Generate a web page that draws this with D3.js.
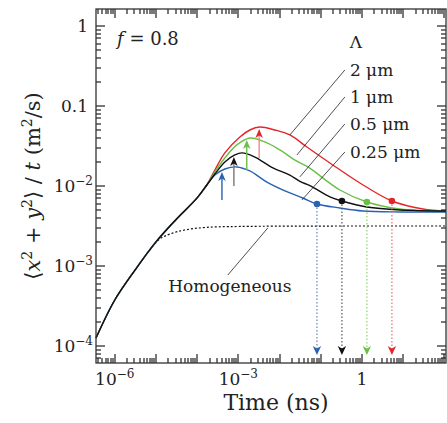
<!DOCTYPE html>
<html>
<head>
<meta charset="utf-8">
<script src="https://cdn.jsdelivr.net/npm/d3@7"></script>
</head>
<body style="margin:0;background:#fff">
<svg id="chart"></svg>
<script>
// time in ns, <x^2+y^2>/t in m^2/s
// part shared by every curve before they split
const commonT = [3.5e-7, 1e-6, 3.1e-6, 1e-5, 3e-5, 1e-4, 1.72e-4];
const commonY = [1.26e-4, 3.76e-4, 8.9e-4, 2.0e-3, 3.76e-3, 7.1e-3, 0.0103];

const homT = [7.1e-6, 1.24e-5, 2.19e-5, 5.0e-5, 1.55e-4, 1.1e-3, 110];
const homY = [1.58e-3, 2.18e-3, 2.51e-3, 2.82e-3, 3.03e-3, 3.12e-3, 3.16e-3];

const redT = [2.69e-4, 4.7e-4, 1.09e-3, 1.9e-3, 3.33e-3, 7.71e-3, 1.78e-2, 4.61e-2, 0.167, 0.894, 5.36, 30.3, 110];
const redY = [0.0158, 0.0259, 0.0410, 0.0501, 0.0546, 0.0501, 0.0434, 0.0307, 0.0194, 0.0109, 0.00649, 0.00516, 0.00487];

const greenT = [2.69e-4, 4.7e-4, 9.2e-4, 1.9e-3, 4.4e-3, 1.02e-2, 2.36e-2, 4.88e-2, 0.292, 1.32, 8.37, 110];
const greenY = [0.0150, 0.0224, 0.0326, 0.0398, 0.0355, 0.0282, 0.0211, 0.0173, 0.00891, 0.00631, 0.00516, 0.00487];

const blackT = [2.69e-4, 4.7e-4, 8.22e-4, 1.22e-3, 2.52e-3, 6.89e-3, 1.78e-2, 3.12e-2, 5.46e-2, 0.167, 0.327, 1.32, 8.37, 110];
const blackY = [0.0141, 0.0200, 0.0244, 0.0259, 0.0230, 0.0168, 0.0137, 0.0114, 0.0101, 0.00729, 0.00649, 0.00546, 0.00501, 0.00487];

const blueT = [2.69e-4, 4.7e-4, 9.2e-4, 1.9e-3, 4.93e-3, 1.78e-2, 3.69e-2, 8.07e-2, 0.292, 1.06, 8.37, 110];
const blueY = [0.0137, 0.0163, 0.0173, 0.0154, 0.0112, 0.00818, 0.00708, 0.00596, 0.00531, 0.00487, 0.00473, 0.00473];

// order: 2, 1, 0.5, 0.25 um
const lambdaLabels = ["2 μm", "1 μm", "0.5 μm", "0.25 μm"];
const peakArrowT = [3.2e-3, 1.6e-3, 7.8e-4, 4.0e-4];
const peakArrowFrom = [0.0224, 0.0158, 0.0100, 0.00668];
const peakArrowTo = [0.0516, 0.0376, 0.0230, 0.0150];
const markT = [5.35, 1.32, 0.327, 0.081];
const markY = [0.0065, 0.0063, 0.0065, 0.00596];
const markArrowTo = 7.7e-5;

// leader lines from labels to curves
const leaderFromT = 0.386;
const leaderFromY = [0.282, 0.1296, 0.0596, 0.0266];
const leaderToT = [0.0178, 0.0264, 0.0312, 0.0349];
const leaderToY = [0.0434, 0.0244, 0.0130, 0.00668];
const homLeader = [[5.21e-3, 2.99e-3], [5.56e-4, 7.72e-4]];

const xTickLabels = [1e-6, 1e-3, 1];
const yTickLabels = [1, 0.1, 1e-2, 1e-3, 1e-4];

const colors = ["#e3262a", "#6abf45", "#111111", "#2a62b3"];
const shaftColors = ["#f08a8a", "#6abf45", "#777777", "#2a62b3"];
const dotColors = ["#f06a6a", "#8ed26e", "#555555", "#5a86c8"];

const width = 447, height = 423;
const margin = { top: 9, right: 1, bottom: 60, left: 96 };

const svg = d3.select("#chart")
  .attr("width", width)
  .attr("height", height)
  .attr("font-family", "'DejaVu Serif', serif")
  .attr("fill", "#222");

const x = d3.scaleLog()
  .domain([3.5e-7, 110])
  .range([margin.left, width - margin.right]);

const y = d3.scaleLog()
  .domain([6.13e-5, 1.63])
  .range([height - margin.bottom, margin.top]);

const x0 = margin.left, x1 = width - margin.right;
const y0 = height - margin.bottom, y1 = margin.top;

function powLabel(sel, v) {
  if (v === 1 || v === 0.1) { sel.text(v === 1 ? "1" : "0.1"); return; }
  sel.append("tspan").text("10");
  sel.append("tspan").attr("dy", -7).attr("font-size", 12).text("−" + Math.round(-Math.log10(v)));
}

xTickLabels.forEach(v => {
  svg.append("text")
    .attr("x", x(v))
    .attr("y", 385)
    .attr("text-anchor", "middle")
    .attr("font-size", 17)
    .call(powLabel, v);
});

yTickLabels.forEach(v => {
  svg.append("text")
    .attr("x", v >= 0.1 ? 88 : 93)
    .attr("y", y(v) + 6)
    .attr("text-anchor", "end")
    .attr("font-size", 17)
    .call(powLabel, v);
});

// axis titles
svg.append("text")
  .attr("x", (x0 + x1) / 2 + 5)
  .attr("y", 410)
  .attr("text-anchor", "middle")
  .attr("font-size", 22)
  .text("Time (ns)");

const yl = svg.append("text")
  .attr("transform", `translate(40,${(y0 + y1) / 2}) rotate(-90)`)
  .attr("text-anchor", "middle")
  .attr("font-size", 21);
yl.append("tspan").text("⟨");
yl.append("tspan").attr("font-style", "italic").text("x");
yl.append("tspan").attr("dy", -8).attr("font-size", 14).text("2");
yl.append("tspan").attr("dy", 8).text(" + ");
yl.append("tspan").attr("font-style", "italic").text("y");
yl.append("tspan").attr("dy", -8).attr("font-size", 14).text("2");
yl.append("tspan").attr("dy", 8).text("⟩ / ");
yl.append("tspan").attr("font-style", "italic").text("t");
yl.append("tspan").text(" (m");
yl.append("tspan").attr("dy", -8).attr("font-size", 14).text("2");
yl.append("tspan").attr("dy", 8).text("/s)");

// curves
const line = d3.line()
  .x(d => x(d[0]))
  .y(d => y(d[1]))
  .curve(d3.curveCatmullRom.alpha(0.5));

const zip = (a, b) => a.map((v, i) => [v, b[i]]);
const common = zip(commonT, commonY);

svg.append("path")
  .datum(zip(homT, homY))
  .attr("d", line)
  .attr("fill", "none")
  .attr("stroke", "#111")
  .attr("stroke-width", 1.2)
  .attr("stroke-dasharray", "2,2");

const series = [
  zip(redT, redY),
  zip(greenT, greenY),
  zip(blackT, blackY),
  zip(blueT, blueY)
];

[0, 1, 3, 2].forEach(i => {
  svg.append("path")
    .datum(common.concat(series[i]))
    .attr("d", line)
    .attr("fill", "none")
    .attr("stroke", colors[i])
    .attr("stroke-width", 1.4);
});

// leader lines and labels
const lead = svg.append("g").attr("stroke", "#222").attr("stroke-width", 0.8);
leaderFromY.forEach((v, i) => {
  lead.append("line")
    .attr("x1", x(leaderFromT)).attr("y1", y(v))
    .attr("x2", x(leaderToT[i])).attr("y2", y(leaderToY[i]));
  svg.append("text")
    .attr("x", x(leaderFromT) + 5)
    .attr("y", y(v) + 6)
    .attr("font-size", 17)
    .text(lambdaLabels[i]);
});
svg.append("text")
  .attr("x", x(leaderFromT) + 11)
  .attr("y", y(leaderFromY[0]) - 22)
  .attr("text-anchor", "middle")
  .attr("font-size", 17)
  .text("Λ");

lead.append("line")
  .attr("x1", x(homLeader[0][0])).attr("y1", y(homLeader[0][1]))
  .attr("x2", x(homLeader[1][0])).attr("y2", y(homLeader[1][1]));
svg.append("text")
  .attr("x", x(homLeader[1][0]) + 2)
  .attr("y", y(homLeader[1][1]) + 17)
  .attr("text-anchor", "middle")
  .attr("font-size", 17)
  .text("Homogeneous");

const fl = svg.append("text").attr("x", 117).attr("y", 45).attr("font-size", 18);
fl.append("tspan").attr("font-style", "italic").text("f");
fl.append("tspan").text(" = 0.8");

// peak arrows
peakArrowT.forEach((t, i) => {
  const px = x(t), tip = y(peakArrowTo[i]);
  svg.append("line")
    .attr("x1", px).attr("x2", px)
    .attr("y1", y(peakArrowFrom[i])).attr("y2", tip + 6)
    .attr("stroke", shaftColors[i])
    .attr("stroke-width", 1.4);
  svg.append("path")
    .attr("d", `M${px},${tip} L${px - 3.8},${tip + 9} L${px},${tip + 6.5} L${px + 3.8},${tip + 9} Z`)
    .attr("fill", colors[i]);
});

// markers with dotted drop arrows
markT.forEach((t, i) => {
  const px = x(t), tip = y(markArrowTo);
  svg.append("line")
    .attr("x1", px).attr("x2", px)
    .attr("y1", y(markY[i])).attr("y2", tip - 6)
    .attr("stroke", dotColors[i])
    .attr("stroke-width", 1.2)
    .attr("stroke-dasharray", "1.5,2");
  svg.append("path")
    .attr("d", `M${px},${tip} L${px - 4.2},${tip - 9} L${px},${tip - 6.5} L${px + 4.2},${tip - 9} Z`)
    .attr("fill", colors[i]);
  svg.append("circle")
    .attr("cx", px).attr("cy", y(markY[i]))
    .attr("r", 3.3)
    .attr("fill", colors[i]);
});

// frame with inward log ticks on all four sides, drawn on top
function logTicks(scale) {
  const [a, b] = scale.domain();
  const out = [];
  for (let k = Math.floor(Math.log10(a)); k <= Math.ceil(Math.log10(b)); k++) {
    for (let m = 1; m <= 9; m++) {
      const v = m * Math.pow(10, k);
      if (v >= a && v <= b) out.push({ v, len: m === 1 ? 9 : 5 });
    }
  }
  return out;
}

const ticks = svg.append("g").attr("fill", "#222");
logTicks(x).forEach(d => {
  const px = Math.round(x(d.v));
  ticks.append("rect").attr("x", px - 0.6).attr("y", y0 - d.len).attr("width", 1.2).attr("height", d.len);
  ticks.append("rect").attr("x", px - 0.6).attr("y", y1).attr("width", 1.2).attr("height", d.len);
});
logTicks(y).forEach(d => {
  const py = Math.round(y(d.v));
  ticks.append("rect").attr("x", x0).attr("y", py - 0.6).attr("width", d.len).attr("height", 1.2);
  ticks.append("rect").attr("x", x1 - d.len).attr("y", py - 0.6).attr("width", d.len).attr("height", 1.2);
});

svg.append("rect")
  .attr("x", x0).attr("y", y1)
  .attr("width", x1 - x0).attr("height", y0 - y1)
  .attr("fill", "none")
  .attr("stroke", "#333")
  .attr("stroke-width", 1.3);
</script>
</body>
</html>
